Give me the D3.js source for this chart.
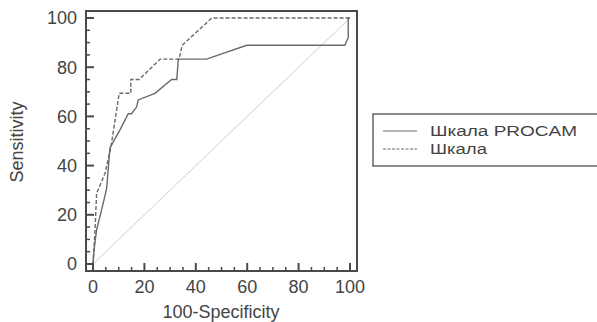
<!DOCTYPE html>
<html>
<head>
<meta charset="utf-8">
<script src="https://cdn.jsdelivr.net/npm/d3@7"></script>
<style>
  body { margin: 0; background: #fff; }
  svg { display: block; font-family: "Liberation Sans", Arial, sans-serif; }
</style>
</head>
<body>
<svg id="chart" width="597" height="322"></svg>
<script>
// ROC curves
const procamX = [0, 0.4, 1.4, 3.4, 5.3, 6.6, 10.5, 13.7, 15, 17, 17.6, 24.1, 30.6, 32.6, 33.2, 44.2, 59.8, 98, 99.3, 99.3, 100];
const procamY = [0, 5.6, 13.9, 22.2, 30.6, 47.2, 54.5, 61.1, 61.1, 63.9, 66.7, 69.4, 75, 75, 83.3, 83.3, 88.9, 88.9, 92, 100, 100];
const scaleX = [0, 0.8, 1.4, 4.7, 7, 10.2, 14.7, 14.7, 18, 26.1, 33.5, 34.7, 46.2, 100];
const scaleY = [0, 13.8, 28.7, 36.9, 47.7, 69.4, 69.4, 75, 75, 83.3, 83.3, 88.9, 100, 100];
const diagonal = [[0, 0], [100, 100]];

const majorTicks = [0, 20, 40, 60, 80, 100];
const minorTicks = d3.range(0, 101, 5).filter(v => v % 20 !== 0);
const legendLabels = ['Шкала PROCAM', 'Шкала'];
const legendWidths = [147, 57];  // glyphs in the source are a bit wide

const svg = d3.select('#chart');
const pad = 7;   // gap between frame and data range
const x = d3.scaleLinear().domain([0, 100]).range([93, 350]);
const y = d3.scaleLinear().domain([0, 100]).range([264, 18]);

const frameColor = '#4a4a4a';
const lineColor = '#6a6a6a';
const textColor = '#444';

// diagonal reference
svg.append('line')
  .attr('x1', x(diagonal[0][0])).attr('y1', y(diagonal[0][1]))
  .attr('x2', x(diagonal[1][0])).attr('y2', y(diagonal[1][1]))
  .attr('stroke', '#cfcfcf').attr('stroke-width', 1);

const line = d3.line().x(d => x(d[0])).y(d => y(d[1]));

svg.append('path')
  .datum(d3.zip(scaleX, scaleY))
  .attr('d', line)
  .attr('fill', 'none')
  .attr('stroke', lineColor)
  .attr('stroke-width', 1.4)
  .attr('stroke-dasharray', '4,2');

svg.append('path')
  .datum(d3.zip(procamX, procamY))
  .attr('d', line)
  .attr('fill', 'none')
  .attr('stroke', lineColor)
  .attr('stroke-width', 1.4);

// frame
const fLeft = x.range()[0] - pad, fRight = x.range()[1] + pad;
const fTop = y.range()[1] - pad, fBottom = y.range()[0] + pad;
svg.append('rect')
  .attr('x', fLeft).attr('y', fTop)
  .attr('width', fRight - fLeft).attr('height', fBottom - fTop)
  .attr('fill', 'none').attr('stroke', frameColor).attr('stroke-width', 2);

// ticks pointing into the plot
const ticks = svg.append('g').attr('stroke', frameColor).attr('stroke-width', 2);
ticks.selectAll('.ymaj').data(majorTicks).join('line')
  .attr('x1', fLeft).attr('x2', fLeft + 8)
  .attr('y1', d => y(d)).attr('y2', d => y(d));
ticks.selectAll('.ymin').data(minorTicks).join('line')
  .attr('stroke-width', 1.5)
  .attr('x1', fLeft).attr('x2', fLeft + 4)
  .attr('y1', d => y(d)).attr('y2', d => y(d));
ticks.selectAll('.xmaj').data(majorTicks).join('line')
  .attr('y1', fBottom).attr('y2', fBottom - 8)
  .attr('x1', d => x(d)).attr('x2', d => x(d));
ticks.selectAll('.xmin').data(minorTicks).join('line')
  .attr('stroke-width', 1.5)
  .attr('y1', fBottom).attr('y2', fBottom - 4)
  .attr('x1', d => x(d)).attr('x2', d => x(d));

// tick labels
svg.append('g').selectAll('text').data(majorTicks).join('text')
  .attr('x', 77).attr('y', d => y(d)).attr('dy', '0.35em')
  .attr('text-anchor', 'end')
  .attr('font-size', 18).attr('fill', textColor)
  .text(d => d);
svg.append('g').selectAll('text').data(majorTicks).join('text')
  .attr('x', d => x(d)).attr('y', 293)
  .attr('text-anchor', 'middle')
  .attr('font-size', 18).attr('fill', textColor)
  .text(d => d);

// axis titles
svg.append('text')
  .attr('x', (x.range()[0] + x.range()[1]) / 2 - 0.5).attr('y', 318)
  .attr('text-anchor', 'middle')
  .attr('font-size', 18).attr('fill', textColor)
  .text('100-Specificity');
svg.append('text')
  .attr('transform', `translate(23, ${(fTop + fBottom) / 2 + 1}) rotate(-90)`)
  .attr('text-anchor', 'middle')
  .attr('font-size', 18).attr('fill', textColor)
  .text('Sensitivity');

// legend
const legend = svg.append('g');
legend.append('rect')
  .attr('x', 373).attr('y', 114).attr('width', 240).attr('height', 52)
  .attr('fill', 'none').attr('stroke', '#666').attr('stroke-width', 1.5);
const items = legend.selectAll('g').data(legendLabels).join('g')
  .attr('transform', (d, i) => `translate(0, ${131 + i * 18})`);
items.append('line')
  .attr('x1', 383).attr('x2', 417)
  .attr('stroke', lineColor).attr('stroke-width', 1.2)
  .attr('stroke-dasharray', (d, i) => i === 1 ? '3,1.5' : null);
items.append('text')
  .attr('x', 430).attr('dy', '0.35em')
  .attr('font-size', 15.5).attr('fill', textColor)
  .attr('textLength', (d, i) => legendWidths[i])
  .attr('lengthAdjust', 'spacingAndGlyphs')
  .text(d => d);
</script>
</body>
</html>
